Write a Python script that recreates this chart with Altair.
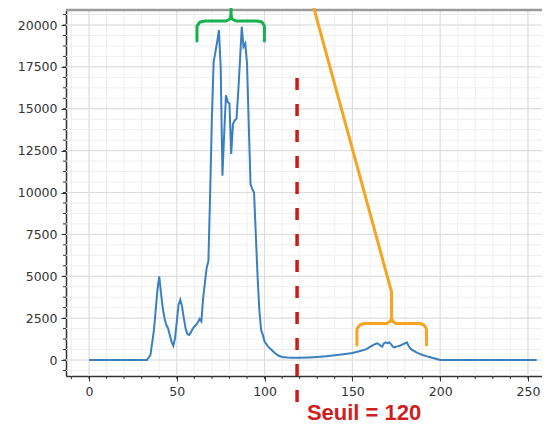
import altair as alt
import pandas as pd

# ---- histogram (grey level -> pixel count) ----
hist_x = [0, 33, 35, 37, 39, 40, 41, 42, 43, 44, 45, 46, 47, 48, 49, 50, 51, 52, 53, 54,
          55, 56, 57, 58, 59, 60, 61, 62, 63, 64, 65, 66, 67, 68, 69, 70, 71, 72, 73, 74,
          75, 76, 77, 78, 79, 80, 81, 82, 83, 84, 85, 86, 87, 88, 89, 90, 91, 92, 93, 94,
          95, 96, 97, 98, 99, 100, 102, 104, 106, 108, 110, 113, 116, 120, 125, 130, 135,
          140, 145, 150, 155, 158, 160, 162, 164, 165, 166, 167, 168, 169, 170, 171, 172,
          173, 174, 175, 176, 177, 178, 179, 180, 181, 182, 183, 184, 186, 188, 190, 192,
          194, 196, 198, 200, 255]
hist_y = [0, 0, 300, 1800, 4200, 5000, 4000, 3100, 2500, 2100, 1900, 1500, 1100, 850, 1300,
          2300, 3300, 3600, 3200, 2500, 1900, 1550, 1500, 1650, 1850, 2000, 2100, 2250, 2450,
          2300, 3700, 4600, 5500, 5900, 10000, 14500, 17800, 18400, 19000, 19700, 17500,
          11000, 13500, 15800, 15400, 15300, 12300, 14100, 14300, 14400, 16000, 17900, 19900,
          18700, 18900, 17700, 14000, 10500, 10200, 10000, 7500, 5000, 3000, 1800, 1500,
          1100, 800, 600, 400, 250, 180, 150, 130, 130, 150, 180, 220, 280, 350, 420, 550,
          650, 780, 900, 1000, 950, 850, 800, 1000, 1050, 1000, 1050, 950, 800, 750, 800,
          830, 850, 900, 950, 1000, 1050, 850, 700, 600, 480, 380, 300, 230, 180, 120, 60,
          0, 0]

# ---- axes ----
x_major = [0, 50, 100, 150, 200, 250]
x_minor = list(range(-10, 251, 10))
y_major = [0, 2500, 5000, 7500, 10000, 12500, 15000, 17500, 20000]
y_minor = [-625 + 625 * i for i in range(35)]
x_domain = [-13.1, 258.0]
y_domain = [-955, 20896]

# ---- annotations (data units) ----
threshold = 118.5
threshold_label = "Seuil = 120"
thr_top, thr_bottom = 16836, -2985
label_x, label_y = 124.1, -3560

green_x = [61.5, 61.5, 63.2, 66.1, 78.0, 80.3, 80.9, 80.9,
           80.9, 81.4, 83.7, 95.7, 98.5, 99.9, 99.9]
green_y = [19045, 19940, 20179, 20239, 20239, 20358, 20597, 21493,
           20597, 20358, 20239, 20239, 20179, 19940, 19045]
green_g = [0] * 8 + [1] * 7

orange_x = [152.6, 152.6, 154.3, 156.6, 169.7, 171.7, 172.3, 172.3, 126.8,
            172.3, 172.9, 174.8, 188.5, 190.8, 192.2, 192.2]
orange_y = [896, 1851, 2090, 2179, 2179, 2328, 2507, 4060, 21493,
            2507, 2328, 2179, 2179, 2090, 1851, 896]
orange_g = [0] * 9 + [1] * 7

W, H = 476, 366
FONT = "DejaVu Sans"

hist = pd.DataFrame({"x": hist_x, "y": hist_y})
xs = alt.Scale(domain=x_domain, nice=False, zero=False)
ys = alt.Scale(domain=y_domain, nice=False, zero=False)

def with_order(xv, yv, gv):
    return pd.DataFrame({"x": xv, "y": yv, "g": gv, "o": list(range(len(xv)))})

xgrid_minor = alt.Chart(pd.DataFrame({"x": x_minor})).mark_rule(
    color="#efefef", strokeWidth=1).encode(x=alt.X("x:Q", scale=xs))
ygrid_minor = alt.Chart(pd.DataFrame({"y": y_minor})).mark_rule(
    color="#efefef", strokeWidth=1).encode(y=alt.Y("y:Q", scale=ys))
xgrid_major = alt.Chart(pd.DataFrame({"x": x_major})).mark_rule(
    color="#dcdcdc", strokeWidth=1).encode(x=alt.X("x:Q", scale=xs))
ygrid_major = alt.Chart(pd.DataFrame({"y": y_major})).mark_rule(
    color="#dcdcdc", strokeWidth=1).encode(y=alt.Y("y:Q", scale=ys))

xtick_minor = alt.Chart(pd.DataFrame({"x": x_minor})).mark_rule(
    color="#333333", strokeWidth=1).encode(
    x=alt.X("x:Q", scale=xs), y=alt.value(H), y2=alt.value(H + 3))
ytick_minor = alt.Chart(pd.DataFrame({"y": y_minor})).mark_rule(
    color="#333333", strokeWidth=1).encode(
    y=alt.Y("y:Q", scale=ys), x=alt.value(0), x2=alt.value(-3))

top_spine = alt.Chart(pd.DataFrame({"a": [0]})).mark_rule(
    color="#9a9a9a", strokeWidth=2.5).encode(
    x=alt.value(0), x2=alt.value(W), y=alt.value(0))

line = alt.Chart(hist).mark_line(color="#3a80c0", strokeWidth=2).encode(
    x=alt.X("x:Q", scale=xs,
            axis=alt.Axis(values=x_major, grid=False, title=None, tickSize=5,
                          tickColor="#333333", domainColor="#333333", domainWidth=1.5,
                          labelFont=FONT, labelFontSize=12.5, labelColor="#333333",
                          labelPadding=4, format="d")),
    y=alt.Y("y:Q", scale=ys,
            axis=alt.Axis(values=y_major, grid=False, title=None, tickSize=5,
                          tickColor="#333333", domainColor="#333333", domainWidth=1.5,
                          labelFont=FONT, labelFontSize=12.5, labelColor="#333333",
                          labelPadding=4, format="d")),
)

thr = alt.Chart(pd.DataFrame({"x": [threshold], "y": [thr_top], "y2": [thr_bottom]})).mark_rule(
    color="#cc1a1a", strokeWidth=3.5, strokeDash=[12, 14]).encode(
    x=alt.X("x:Q", scale=xs), y=alt.Y("y:Q", scale=ys), y2="y2:Q")

thr_text = alt.Chart(pd.DataFrame({"x": [label_x], "y": [label_y], "t": [threshold_label]})).mark_text(
    color="#d0201e", font="Liberation Sans", fontSize=22, fontWeight="bold",
    align="left", baseline="alphabetic").encode(
    x=alt.X("x:Q", scale=xs), y=alt.Y("y:Q", scale=ys), text="t:N")

green = alt.Chart(with_order(green_x, green_y, green_g)).mark_line(
    color="#17b04f", strokeWidth=3, strokeJoin="round", strokeCap="round").encode(
    x=alt.X("x:Q", scale=xs), y=alt.Y("y:Q", scale=ys), detail="g:N", order="o:Q")

orange = alt.Chart(with_order(orange_x, orange_y, orange_g)).mark_line(
    color="#f5a522", strokeWidth=3, strokeJoin="round", strokeCap="round").encode(
    x=alt.X("x:Q", scale=xs), y=alt.Y("y:Q", scale=ys), detail="g:N", order="o:Q")

chart = alt.layer(
    xgrid_minor, ygrid_minor, xgrid_major, ygrid_major,
    line, xtick_minor, ytick_minor, top_spine, thr, thr_text, green, orange
).properties(
    width=W, height=H,
    autosize=alt.AutoSizeParams(type="none"),
    padding={"left": 58, "top": 2, "right": 0, "bottom": 49},
    background="white",
).configure_view(stroke=None)

chart.save("out.html", embed_options={"renderer": "svg", "actions": False})
